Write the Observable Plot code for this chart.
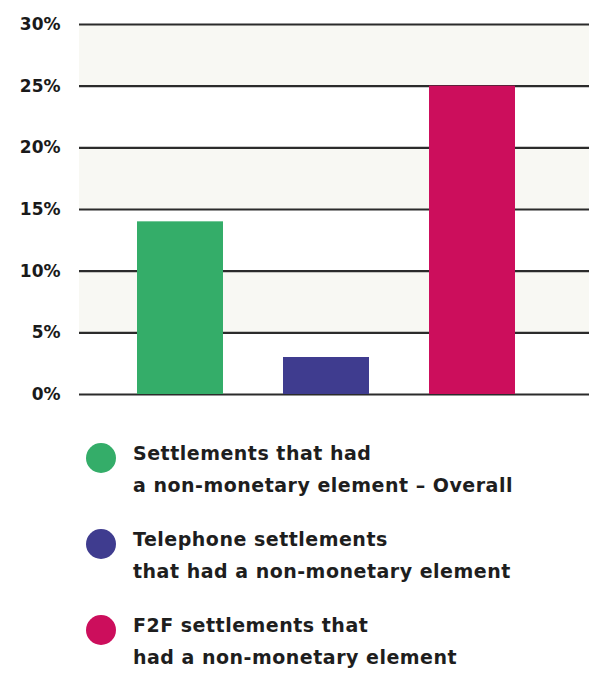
<!DOCTYPE html>
<html>
<head>
<meta charset="utf-8">
<script src="https://cdn.jsdelivr.net/npm/d3@7"></script>
<script src="https://cdn.jsdelivr.net/npm/@observablehq/plot@0.6"></script>
<style>
  html, body { margin: 0; padding: 0; background: #fff; overflow: hidden; }
  #wrap { width: 589px; font-family: "DejaVu Sans", sans-serif; }
  #legend { padding-top: 27px; }
  .item { display: flex; align-items: flex-start; margin-bottom: 22px; }
  .dot { width: 30px; height: 30px; border-radius: 50%; margin-left: 86px; margin-top: 6px; flex: none; }
  .txt { margin-left: 17px; font-size: 19px; font-weight: 700; line-height: 32px; color: #1e1e1e; letter-spacing: 0.5px; }
</style>
</head>
<body>
<div id="wrap"></div>
<script>
const categories = ["Overall", "Telephone", "F2F"];
const values = [14, 3, 25];
const colors = ["#34ad69", "#3f3c8f", "#cc0e5c"];
const legendLines = [
  ["Settlements that had", "a non-monetary element \u2013 Overall"],
  ["Telephone settlements", "that had a non-monetary element"],
  ["F2F settlements that", "had a non-monetary element"]
];
const yTicks = [0, 5, 10, 15, 20, 25, 30];
const bands = [[25, 30], [15, 20], [5, 10]];

const data = categories.map((c, i) => ({category: c, value: values[i]}));
const bandData = bands.map(([a, b]) => ({y1: a, y2: b}));

const chart = Plot.plot({
  width: 589,
  height: 410,
  marginTop: 24,
  marginBottom: 16,
  marginLeft: 79,
  marginRight: 0,
  x: {type: "band", domain: categories, range: [107, 546], paddingInner: 0.41, paddingOuter: 0.2, axis: null},
  y: {domain: [0, 30], ticks: yTicks, label: null},
  color: {domain: categories, range: colors},
  style: {fontFamily: "'DejaVu Sans', sans-serif", background: "#fff"},
  marks: [
    Plot.rectY(bandData, {y1: "y1", y2: "y2", fill: "#f8f8f3"}),
    Plot.ruleY(yTicks, {stroke: "#2b2b2b", strokeWidth: 2.2}),
    Plot.barY(data, {x: "category", y: "value", fill: "category"}),
    Plot.axisY({ticks: yTicks, tickSize: 0, tickPadding: 19, tickFormat: d => d + "%", fontSize: 17, fontWeight: 700, fill: "#1a1a1a", label: null})
  ]
});

const wrap = document.getElementById("wrap");
wrap.appendChild(chart);

const legend = document.createElement("div");
legend.id = "legend";
categories.forEach((c, i) => {
  const item = document.createElement("div");
  item.className = "item";
  const dot = document.createElement("div");
  dot.className = "dot";
  dot.style.background = colors[i];
  const txt = document.createElement("div");
  txt.className = "txt";
  txt.innerHTML = legendLines[i].join("<br>");
  item.appendChild(dot);
  item.appendChild(txt);
  legend.appendChild(item);
});
wrap.appendChild(legend);
</script>
</body>
</html>
